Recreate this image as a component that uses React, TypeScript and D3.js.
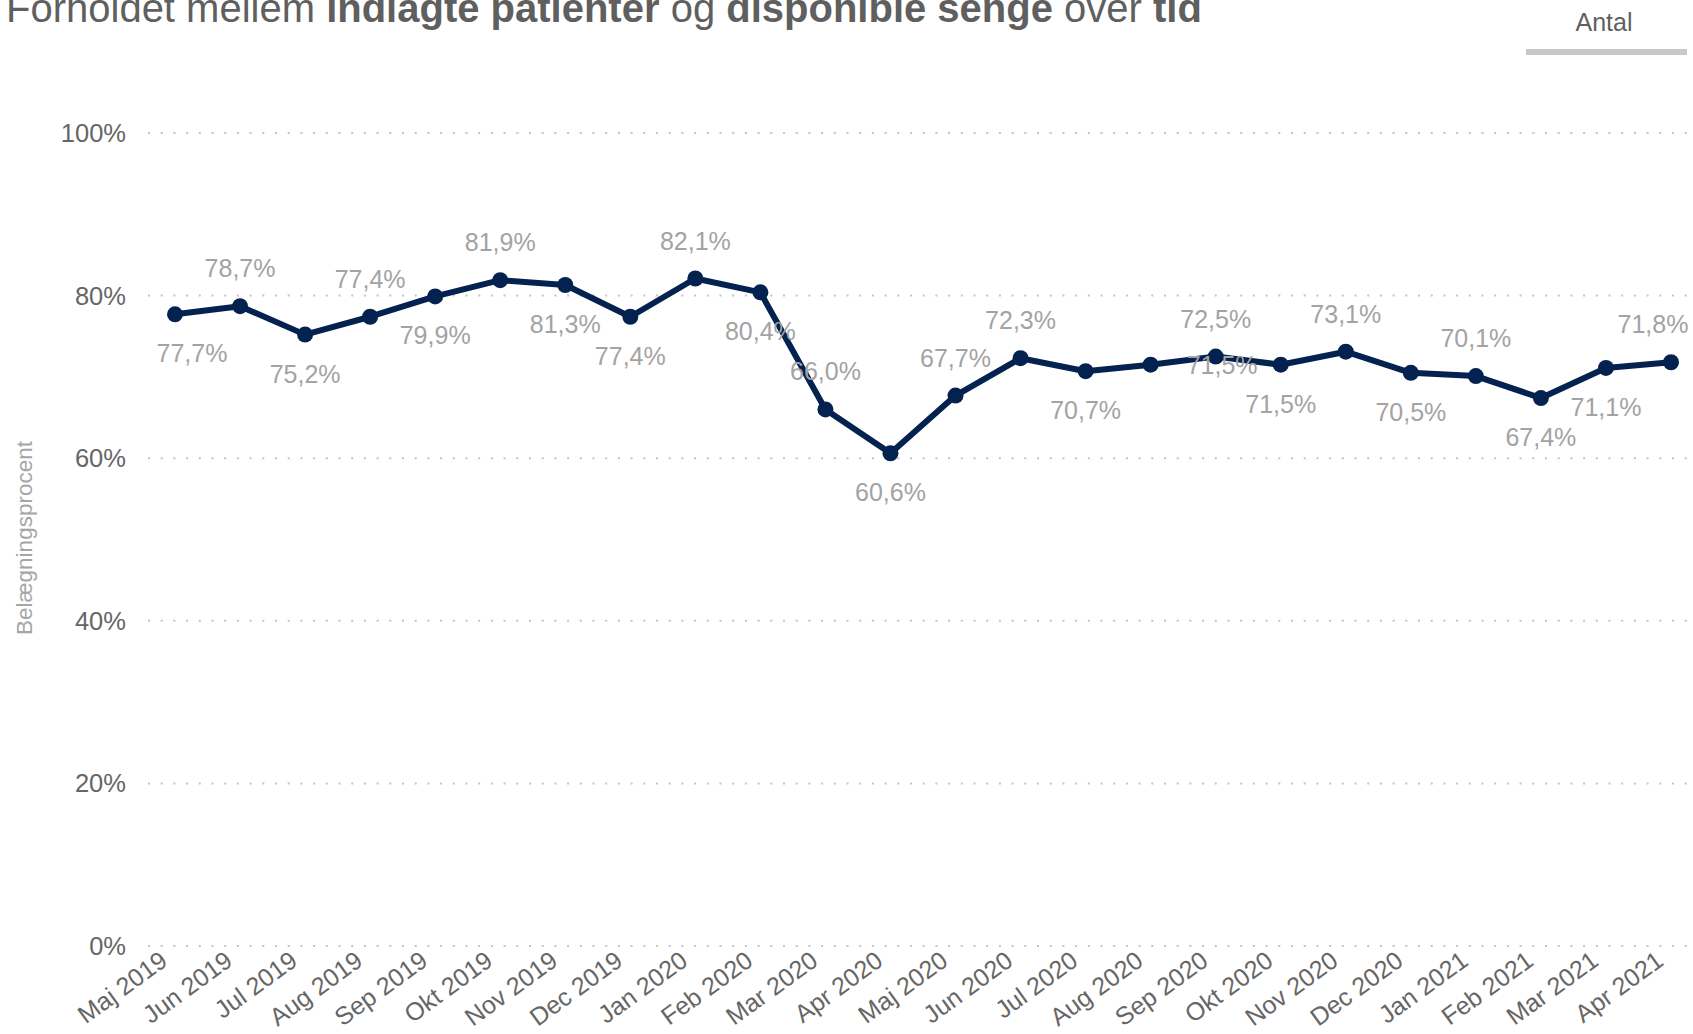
import * as d3 from 'd3';

const months = [
  'Maj 2019', 'Jun 2019', 'Jul 2019', 'Aug 2019', 'Sep 2019', 'Okt 2019',
  'Nov 2019', 'Dec 2019', 'Jan 2020', 'Feb 2020', 'Mar 2020', 'Apr 2020',
  'Maj 2020', 'Jun 2020', 'Jul 2020', 'Aug 2020', 'Sep 2020', 'Okt 2020',
  'Nov 2020', 'Dec 2020', 'Jan 2021', 'Feb 2021', 'Mar 2021', 'Apr 2021',
];
const occupancy = [
  77.7, 78.7, 75.2, 77.4, 79.9, 81.9, 81.3, 77.4, 82.1, 80.4, 66.0, 60.6,
  67.7, 72.3, 70.7, 71.5, 72.5, 71.5, 73.1, 70.5, 70.1, 67.4, 71.1, 71.8,
];
const yTicks = [0, 20, 40, 60, 80, 100];

// where power bi put each data label
const labelSide = [
  'below', 'above', 'below', 'above', 'below', 'above', 'below', 'below',
  'above', 'below', 'above', 'below', 'above', 'above', 'below', 'right',
  'above', 'below', 'above', 'below', 'above', 'below', 'below', 'above',
];

const width = 1693;
const height = 1034;
const font = 'Arial, "Liberation Sans", Helvetica, sans-serif';
const navy = '#04224f';

const fmt = (v: number) => d3.format('.1f')(v).replace('.', ',') + '%';

export default function App() {
  const x = d3.scalePoint<string>().domain(months).range([175, 1671]);
  const y = d3.scaleLinear().domain([0, 100]).range([946, 133]);

  const line = d3.line<number>()
    .x((d, i) => x(months[i])!)
    .y((d) => y(d));

  return (
    <svg
      width={width}
      height={height}
      style={{ position: 'absolute', left: 0, top: 0, fontFamily: font, background: '#fff' }}
    >
      {/* title */}
      <text x={6} y={22} fontSize={40} fill="#5f5f5f">
        Forholdet mellem <tspan fontWeight="bold">indlagte patienter</tspan> og{' '}
        <tspan fontWeight="bold">disponible senge</tspan> over <tspan fontWeight="bold">tid</tspan>
      </text>

      {/* tab */}
      <text x={1604} y={31} fontSize={25} fill="#5f5f5f" textAnchor="middle">Antal</text>
      <rect x={1526} y={49} width={161} height={6} fill="#c8c8c8" />

      {/* y axis title */}
      <text
        transform="translate(32,538) rotate(-90)"
        fontSize={22.5}
        fill="#a6a6a6"
        textAnchor="middle"
      >
        Belægningsprocent
      </text>

      {/* grid + y ticks */}
      {yTicks.map((t) => (
        <g key={t} transform={`translate(0,${y(t)})`}>
          <line
            x1={148}
            x2={1688}
            stroke="#c4c4c4"
            strokeWidth={2}
            strokeDasharray="2 10.7"
          />
          <text x={126} y={9} fontSize={25.5} fill="#666" textAnchor="end">
            {t}%
          </text>
        </g>
      ))}

      {/* x labels */}
      {months.map((m) => (
        <text
          key={m}
          transform={`translate(${x(m)! - 6},964) rotate(-36)`}
          fontSize={25}
          fill="#666"
          textAnchor="end"
        >
          {m}
        </text>
      ))}

      {/* line */}
      <path d={line(occupancy)!} fill="none" stroke={navy} strokeWidth={6} strokeLinejoin="round" />
      {occupancy.map((v, i) => (
        <circle key={i} cx={x(months[i])} cy={y(v)} r={8} fill={navy} />
      ))}

      {/* data labels */}
      {occupancy.map((v, i) => {
        const px = x(months[i])!;
        const py = y(v);
        const side = labelSide[i];
        if (side === 'right') {
          return (
            <text key={i} x={px + 36} y={py + 9} fontSize={25} fill="#a3a3a3">
              {fmt(v)}
            </text>
          );
        }
        const cx = Math.min(Math.max(px, 192), 1653);
        return (
          <text
            key={i}
            x={cx}
            y={side === 'above' ? py - 29 : py + 48}
            fontSize={25}
            fill="#a3a3a3"
            textAnchor="middle"
          >
            {fmt(v)}
          </text>
        );
      })}
    </svg>
  );
}
